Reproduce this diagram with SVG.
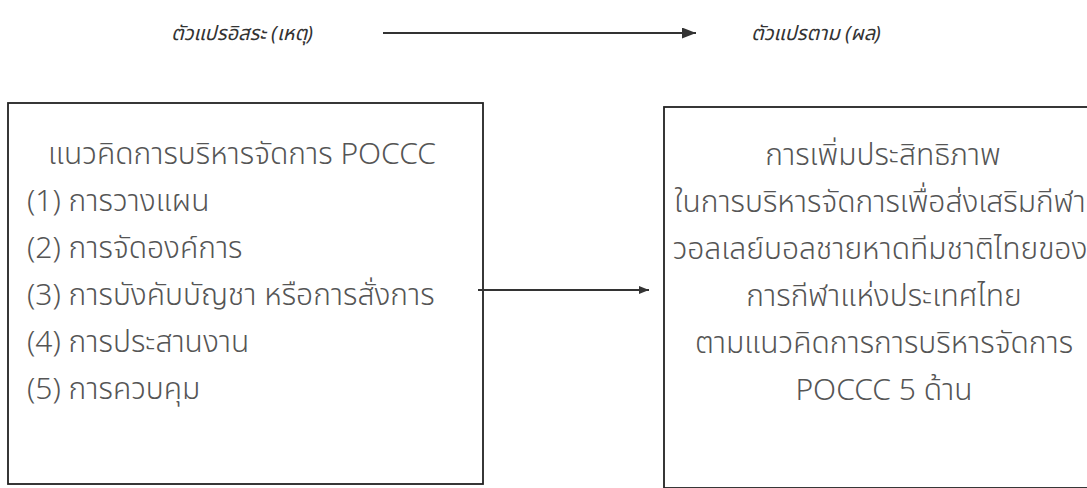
<svg xmlns="http://www.w3.org/2000/svg" width="1087" height="488" viewBox="0 0 1087 488">
<defs>
<style>
.lbl{font-family:"Noto Sans","Noto Sans Thai","Liberation Sans",sans-serif;font-style:italic;font-size:20px;fill:#333}
.t{font-family:"Noto Sans","Noto Sans Thai","Liberation Sans",sans-serif;font-size:30px;fill:#555;font-weight:300}
.box{fill:#fff;stroke:#222;stroke-width:1.8}
.con{stroke:#333;stroke-width:1.8;fill:none}
</style>
<marker id="ah" viewBox="0 0 10 10" refX="10" refY="5" markerWidth="10" markerHeight="8" markerUnits="userSpaceOnUse" orient="auto" preserveAspectRatio="none"><path d="M0,0 L10,5 L0,10 z" fill="#333"/></marker>
<marker id="ah2" viewBox="0 0 10 10" refX="10" refY="5" markerWidth="14" markerHeight="11" markerUnits="userSpaceOnUse" orient="auto" preserveAspectRatio="none"><path d="M0,0 L10,5 L0,10 z" fill="#333"/></marker>
</defs>
<rect width="1087" height="488" fill="#fff"/>
<g id="label-independent"><text class="lbl" x="242" y="40" text-anchor="middle">ตัวแปรอิสระ (เหตุ)</text></g>
<g id="label-dependent"><text class="lbl" x="751" y="40">ตัวแปรตาม (ผล)</text></g>
<g id="node-poccc">
<rect class="box" x="8" y="103" width="475" height="381"/>
<text class="t" x="242" y="164" text-anchor="middle">แนวคิดการบริหารจัดการ POCCC</text>
<text class="t" x="27" y="211">(1) การวางแผน</text>
<text class="t" x="27" y="258">(2) การจัดองค์การ</text>
<text class="t" x="27" y="305">(3) การบังคับบัญชา หรือการสั่งการ</text>
<text class="t" x="27" y="352">(4) การประสานงาน</text>
<text class="t" x="27" y="399">(5) การควบคุม</text>
</g>
<g id="node-efficiency">
<rect class="box" x="664" y="107" width="440" height="381"/>
<text class="t" x="883" y="165" text-anchor="middle">การเพิ่มประสิทธิภาพ</text>
<text class="t" x="880" y="212" text-anchor="middle">ในการบริหารจัดการเพื่อส่งเสริมกีฬา</text>
<text class="t" x="880" y="259" text-anchor="middle">วอลเลย์บอลชายหาดทีมชาติไทยของ</text>
<text class="t" x="884" y="306" text-anchor="middle">การกีฬาแห่งประเทศไทย</text>
<text class="t" x="884" y="353" text-anchor="middle">ตามแนวคิดการการบริหารจัดการ</text>
<text class="t" x="884" y="400" text-anchor="middle">POCCC 5 ด้าน</text>
</g>
<g id="connectors">
<line class="con" x1="383" y1="33" x2="696" y2="33" marker-end="url(#ah2)"/>
<line class="con" x1="478" y1="290" x2="649" y2="290" marker-end="url(#ah)"/>
</g>
</svg>
